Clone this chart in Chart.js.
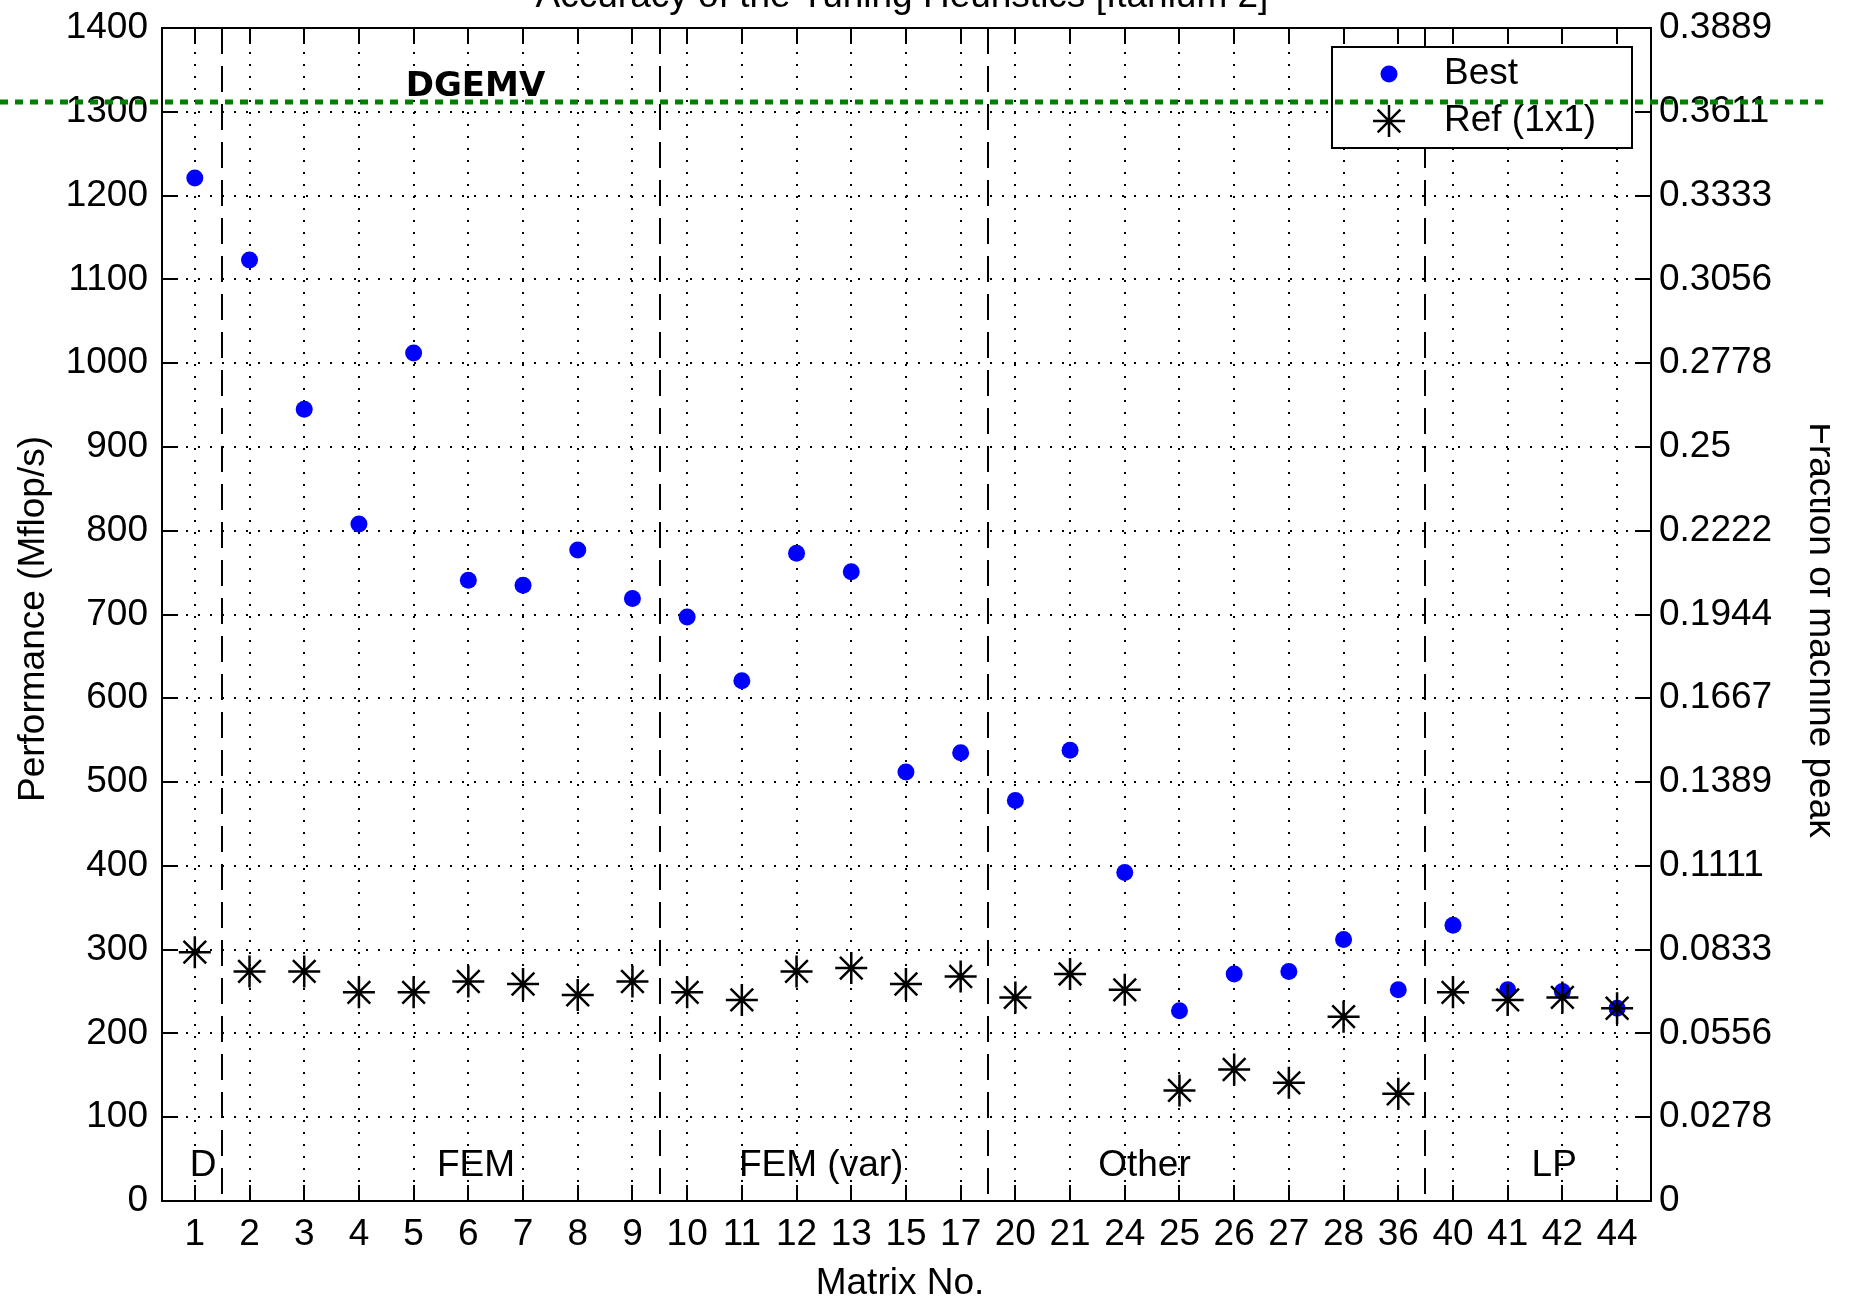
<!DOCTYPE html>
<html>
<head>
<meta charset="utf-8">
<title>Accuracy of the Tuning Heuristics [Itanium 2]</title>
<script src="https://cdn.jsdelivr.net/npm/chart.js@4.4.1/dist/chart.umd.min.js"></script>
<style>
  html, body { margin: 0; padding: 0; background: #fff; }
  #wrap { width: 1853px; height: 1299px; }
</style>
</head>
<body>
<div id="wrap"><canvas id="perf" width="1853" height="1299"></canvas></div>
<script>
// matrix numbers on the x axis
var matrices = ['1','2','3','4','5','6','7','8','9','10','11','12','13','15','17',
                '20','21','24','25','26','27','28','36','40','41','42','44'];

// Mflop/s
var best = [1221, 1123, 945, 808, 1012, 741, 735, 777, 719, 697, 621, 773, 751, 512, 535,
            478, 538, 392, 227, 271, 274, 312, 252, 329, 252, 250, 230];
var ref1x1 = [297, 274, 274, 249, 249, 262, 259, 246, 262, 249, 240, 274, 278, 259, 268,
              243, 271, 252, 132, 157, 141, 220, 128, 249, 240, 243, 230];

var machinePeak = 3600;   // right axis = Mflop/s / peak
var perfTicks = [0, 100, 200, 300, 400, 500, 600, 700, 800, 900, 1000, 1100, 1200, 1300, 1400];

// matrix groups
var groupNames = ['D', 'FEM', 'FEM (var)', 'Other', 'LP'];
var groupLabelAt = [0.15, 5.14, 11.45, 17.36, 24.85];
var groupBreaks = [0.5, 8.5, 14.5, 22.48];

var FONT = '"Liberation Sans", Arial, sans-serif';
Chart.defaults.font.family = FONT;
Chart.defaults.font.size = 37;
Chart.defaults.color = '#000';

function toPoints(arr) {
  return arr.map(function (v, i) { return { x: i, y: v }; });
}

// fixed plot box: no extra room for overhanging tick labels
function fixSize(prop, size) {
  return function (s) {
    s[prop] = size;
    s.paddingTop = 0; s.paddingBottom = 0;
    s.paddingLeft = 0; s.paddingRight = 0;
  };
}

var decorations = {
  id: 'decorations',
  beforeDatasetsDraw: function (chart) {
    var ctx = chart.ctx, a = chart.chartArea, x = chart.scales.x;
    // dashed group separators
    ctx.save();
    ctx.strokeStyle = '#000';
    ctx.lineWidth = 2;
    ctx.setLineDash([26, 12]);
    groupBreaks.forEach(function (b) {
      var px = Math.round(x.getPixelForValue(b));
      ctx.beginPath();
      ctx.moveTo(px, a.top);
      ctx.lineTo(px, a.bottom);
      ctx.stroke();
    });
    ctx.restore();
  },
  afterDraw: function (chart) {
    var ctx = chart.ctx, a = chart.chartArea;
    var x = chart.scales.x, y = chart.scales.y;
    var tl = 16;

    ctx.save();
    // box and inward ticks
    ctx.strokeStyle = '#000';
    ctx.lineWidth = 2;
    ctx.setLineDash([]);
    ctx.strokeRect(a.left, a.top, a.right - a.left, a.bottom - a.top);
    ctx.beginPath();
    x.ticks.forEach(function (t) {
      var px = Math.round(x.getPixelForValue(t.value));
      ctx.moveTo(px, a.bottom); ctx.lineTo(px, a.bottom - tl);
      ctx.moveTo(px, a.top); ctx.lineTo(px, a.top + tl);
    });
    y.ticks.forEach(function (t) {
      var py = Math.round(y.getPixelForValue(t.value));
      ctx.moveTo(a.left, py); ctx.lineTo(a.left + tl, py);
      ctx.moveTo(a.right, py); ctx.lineTo(a.right - tl, py);
    });
    ctx.stroke();

    // group names
    ctx.fillStyle = '#000';
    ctx.font = '37px ' + FONT;
    ctx.textAlign = 'center';
    ctx.textBaseline = 'alphabetic';
    groupNames.forEach(function (g, i) {
      ctx.fillText(g, x.getPixelForValue(groupLabelAt[i]), y.getPixelForValue(30));
    });

    // titles
    ctx.fillText('Accuracy of the Tuning Heuristics [Itanium 2]', 902, 7);
    ctx.fillText('Matrix No.', 900, 1294);

    ctx.save();
    ctx.translate(34, 619);
    ctx.rotate(-Math.PI / 2);
    ctx.textBaseline = 'middle';
    ctx.fillText('Performance (Mflop/s)', 0, 0);
    ctx.restore();

    ctx.save();
    ctx.beginPath();
    ctx.rect(0, 0, 1830, chart.height);
    ctx.clip();
    ctx.translate(1810, 630);
    ctx.rotate(Math.PI / 2);
    ctx.fillText('Fraction of machine peak', 0, 0);
    ctx.restore();

    // legend
    var lx = 1332, ly = 47, lw = 300, lh = 101;
    ctx.fillStyle = '#fff';
    ctx.fillRect(lx, ly, lw, lh);
    ctx.lineWidth = 2;
    ctx.strokeRect(lx, ly, lw, lh);
    chart.data.datasets.forEach(function (ds, i) {
      var cy = i === 0 ? 74 : 121;
      ctx.fillStyle = ds.backgroundColor;
      ctx.strokeStyle = ds.borderColor;
      ctx.lineWidth = ds.borderWidth || 1;
      Chart.helpers.drawPoint(ctx, {
        pointStyle: ds.pointStyle, radius: ds.pointRadius, rotation: 0,
        borderWidth: ds.borderWidth
      }, 1389, cy);
      ctx.fillStyle = '#000';
      ctx.textAlign = 'left';
      ctx.textBaseline = 'middle';
      ctx.fillText(ds.label, 1444, cy);
    });

    // green dotted marker line across the figure and the DGEMV note
    ctx.strokeStyle = '#008000';
    ctx.lineWidth = 5;
    ctx.setLineDash([8, 7]);
    var gy = Math.round(y.getPixelForValue(1312));
    ctx.beginPath();
    ctx.moveTo(0, gy);
    ctx.lineTo(1823, gy);
    ctx.stroke();

    ctx.fillStyle = '#000';
    ctx.font = 'bold 34px "DejaVu Sans", sans-serif';
    ctx.textAlign = 'center';
    ctx.textBaseline = 'alphabetic';
    ctx.fillText('DGEMV', x.getPixelForValue(5.13), 96);
    ctx.restore();
  }
};

var dotted = { color: '#000', lineWidth: 2, drawTicks: false };

new Chart(document.getElementById('perf'), {
  type: 'scatter',
  data: {
    datasets: [
      {
        label: 'Best',
        data: toPoints(best),
        pointStyle: 'circle',
        pointRadius: 8.5,
        backgroundColor: '#0000ff',
        borderColor: '#0000ff',
        borderWidth: 0,
        order: 2
      },
      {
        label: 'Ref (1x1)',
        data: toPoints(ref1x1),
        pointStyle: 'star',
        pointRadius: 16,
        backgroundColor: '#000',
        borderColor: '#000',
        borderWidth: 2.5,
        order: 1
      }
    ]
  },
  options: {
    responsive: false,
    animation: false,
    events: [],
    layout: { padding: { top: 28 } },
    plugins: { legend: { display: false }, tooltip: { enabled: false } },
    scales: {
      x: {
        type: 'linear',
        min: -0.6,
        max: 26.62,
        afterBuildTicks: function (s) {
          s.ticks = matrices.map(function (m, i) { return { value: i }; });
        },
        ticks: {
          autoSkip: false, maxRotation: 0, minRotation: 0, padding: 12,
          callback: function (v) { return matrices[Math.round(v)]; }
        },
        grid: dotted,
        border: { display: false, dash: [2, 10] },
        afterFit: fixSize('height', 98)
      },
      y: {
        position: 'left',
        min: 0,
        max: 1400,
        afterBuildTicks: function (s) {
          s.ticks = perfTicks.map(function (v) { return { value: v }; });
        },
        ticks: { padding: 14, callback: function (v) { return String(v); } },
        grid: dotted,
        border: { display: false, dash: [2, 10] },
        afterFit: fixSize('width', 162)
      },
      y2: {
        position: 'right',
        min: 0,
        max: 1400,
        afterBuildTicks: function (s) {
          s.ticks = perfTicks.map(function (v) { return { value: v }; });
        },
        ticks: {
          padding: 0,
          callback: function (v) { return String(parseFloat((v / machinePeak).toFixed(4))); }
        },
        grid: { display: false },
        border: { display: false },
        afterFit: fixSize('width', 202)
      }
    }
  },
  plugins: [decorations]
});
</script>
</body>
</html>
